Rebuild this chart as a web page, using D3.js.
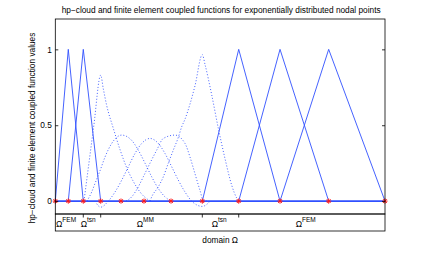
<!DOCTYPE html>
<html>
<head>
<meta charset="utf-8">
<script src="https://cdn.jsdelivr.net/npm/d3@7/dist/d3.min.js"></script>
<style>
  body { margin: 0; background: #fff; }
  text { font-family: "Liberation Sans", Arial, Helvetica, sans-serif; fill: #000; }
</style>
</head>
<body>
<div id="chart"></div>
<script>
// nodal points (exponentially spaced), domain scaled to [0,1]
var nodes = [0, 0.0394, 0.0849, 0.1377, 0.1993, 0.2690, 0.3510, 0.4459, 0.5563, 0.6816, 0.8292, 1.0];

// finite element hat functions, by index of the peak node
var femPeaks = [1, 2, 8, 9, 10];

// hp-cloud (coupled) functions: [x, value]
var cloudA = [[0.087, 0], [0.099, 0.2], [0.117, 0.5], [0.1377, 0.83], [0.1456, 0.74], [0.1559, 0.63],
  [0.1759, 0.48], [0.1962, 0.34], [0.2166, 0.22], [0.2366, 0.13], [0.2569, 0.06], [0.2812, 0.01], [0.29, 0]];
var cloudB = [[0.096, 0], [0.1104, 0.06], [0.1204, 0.116], [0.1356, 0.2], [0.1507, 0.29], [0.1711, 0.38],
  [0.2014, 0.435], [0.2317, 0.40], [0.2517, 0.336], [0.2721, 0.25], [0.2924, 0.16], [0.3124, 0.083],
  [0.3327, 0.028], [0.3509, 0]];
var cloudC = [[0.1204, 0], [0.1377, -0.04], [0.1608, 0], [0.1811, 0.06], [0.2014, 0.138], [0.2214, 0.226],
  [0.2417, 0.314], [0.2621, 0.38], [0.2872, 0.413], [0.3124, 0.38], [0.3327, 0.314], [0.3531, 0.226],
  [0.3731, 0.138], [0.3934, 0.06], [0.4137, 0], [0.4459, -0.035], [0.47, 0]];
var cloudD = [[0.2144, 0], [0.2317, 0.028], [0.2517, 0.094], [0.2669, 0.16], [0.2872, 0.25], [0.3076, 0.336],
  [0.3276, 0.413], [0.3630, 0.435], [0.3934, 0.38], [0.4086, 0.29], [0.4237, 0.18], [0.4389, 0.07],
  [0.4489, 0.005], [0.4601, 0]];
var cloudE = [[0.2872, 0], [0.2924, 0.028], [0.3124, 0.094], [0.3276, 0.16], [0.3427, 0.25], [0.3579, 0.336],
  [0.3731, 0.42], [0.3834, 0.49], [0.3934, 0.54], [0.4086, 0.64], [0.4237, 0.76], [0.4459, 0.965],
  [0.4541, 0.90], [0.4744, 0.70], [0.4944, 0.48], [0.5147, 0.28], [0.5350, 0.105], [0.5502, 0.02], [0.5563, 0]];

// subdomains under the axis
var regionNames = ['FEM', 'tsn', 'MM', 'tsn', 'FEM'];
var regionLabelX = [0.0021, 0.077, 0.2469, 0.4744, 0.7292];
var regionBounds = [nodes[2], nodes[3], nodes[7], nodes[8]];

var yTicks = [0, 0.5, 1];

var width = 425, height = 260;
var margin = {top: 19, right: 40, bottom: 46, left: 55.3};
var bandH = 17;

var svg = d3.select('#chart').append('svg')
  .attr('width', width)
  .attr('height', height);

var x = d3.scaleLinear()
  .domain([0, 1])
  .range([margin.left, width - margin.right]);
var y = d3.scaleLinear()
  .domain([-0.085, 1.2])
  .range([height - margin.bottom, margin.top]);

var blue = '#3050ff';
var line = d3.line()
  .x(function(d) { return x(d[0]); })
  .y(function(d) { return y(d[1]); });

// zero line (all functions vanish there)
svg.append('path')
  .attr('d', line([[0, 0], [1, 0]]))
  .attr('fill', 'none')
  .attr('stroke', blue)
  .attr('stroke-width', 1.6);

// FEM hats
femPeaks.forEach(function(i) {
  svg.append('path')
    .attr('d', line([[nodes[i - 1], 0], [nodes[i], 1], [nodes[i + 1], 0]]))
    .attr('fill', 'none')
    .attr('stroke', blue)
    .attr('stroke-width', 0.9);
});

// hp-cloud functions, dotted
var smooth = d3.line()
  .x(function(d) { return x(d[0]); })
  .y(function(d) { return y(d[1]); })
  .curve(d3.curveMonotoneX);

[cloudA, cloudB, cloudC, cloudD, cloudE].forEach(function(c) {
  svg.append('path')
    .attr('d', smooth(c))
    .attr('fill', 'none')
    .attr('stroke', blue)
    .attr('stroke-width', 0.9)
    .attr('stroke-dasharray', '1,2');
});

// nodal points as red asterisks
var star = svg.append('g').selectAll('g')
  .data(nodes)
  .enter().append('g')
    .attr('transform', function(d) { return 'translate(' + x(d) + ',' + y(0) + ')'; })
    .attr('stroke', '#ff1a1a')
    .attr('stroke-width', 1);
star.append('path').attr('d', 'M-2.6,0H2.6M0,-2.6V2.6M-1.9,-1.9L1.9,1.9M-1.9,1.9L1.9,-1.9');

// axes frame
var x0 = x(0), x1 = x(1), yTop = y.range()[1], yBot = y.range()[0];
svg.append('rect')
  .attr('x', x0).attr('y', yTop)
  .attr('width', x1 - x0).attr('height', yBot - yTop)
  .attr('fill', 'none').attr('stroke', '#000').attr('stroke-width', 0.8);

var yAxisL = svg.append('g')
  .attr('transform', 'translate(' + x0 + ',0)')
  .call(d3.axisLeft(y).tickValues(yTicks).tickSize(-3).tickPadding(3.5)
    .tickFormat(function(d) { return d === 0.5 ? '0.5' : d; }));
var yAxisR = svg.append('g')
  .attr('transform', 'translate(' + x1 + ',0)')
  .call(d3.axisRight(y).tickValues(yTicks).tickSize(-3).tickFormat(''));
[yAxisL, yAxisR].forEach(function(a) {
  a.select('.domain').remove();
  a.selectAll('line').attr('stroke', '#000').attr('stroke-width', 0.8);
});
yAxisL.selectAll('text')
  .attr('font-size', 8.3)
  .attr('font-family', '"Liberation Sans", Arial, sans-serif');

// subdomain band
svg.append('rect')
  .attr('x', x0).attr('y', yBot)
  .attr('width', x1 - x0).attr('height', bandH)
  .attr('fill', 'none').attr('stroke', '#000').attr('stroke-width', 0.8);

svg.append('g').selectAll('line')
  .data(regionBounds)
  .enter().append('line')
    .attr('x1', function(d) { return x(d); })
    .attr('x2', function(d) { return x(d); })
    .attr('y1', yBot)
    .attr('y2', yBot + 3.5)
    .attr('stroke', '#000')
    .attr('stroke-width', 0.8);

var lab = svg.append('g').selectAll('text')
  .data(regionNames)
  .enter().append('text')
    .attr('x', function(d, i) { return x(regionLabelX[i]); })
    .attr('y', yBot + 12.5)
    .attr('font-size', 8.5);
lab.append('tspan').text('Ω');
lab.append('tspan')
  .attr('font-size', 6.5)
  .attr('dy', -4.5)
  .text(function(d) { return d; });

// titles
svg.append('text')
  .attr('x', (x0 + x1) / 2 + 1)
  .attr('y', 12.5)
  .attr('text-anchor', 'middle')
  .attr('font-size', 8.3)
  .text('hp\u2212cloud and finite element coupled functions for exponentially distributed nodal points');

svg.append('text')
  .attr('x', (x0 + x1) / 2)
  .attr('y', yBot + bandH + 11.5)
  .attr('text-anchor', 'middle')
  .attr('font-size', 8.3)
  .text('domain Ω');

svg.append('text')
  .attr('transform', 'translate(35,128) rotate(-90)')
  .attr('text-anchor', 'middle')
  .attr('font-size', 8.3)
  .text('hp\u2212cloud and finite element coupled function values');
</script>
</body>
</html>
